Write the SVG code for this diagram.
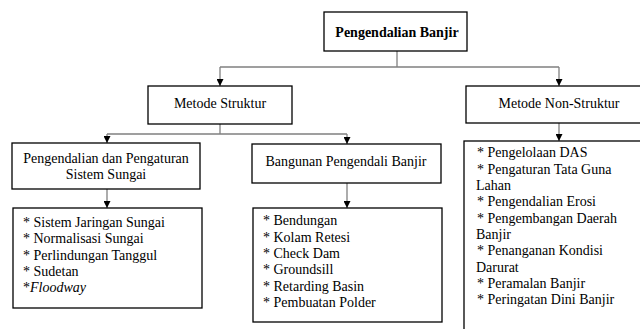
<svg xmlns="http://www.w3.org/2000/svg" width="640" height="329" viewBox="0 0 640 329">
<defs>
<marker id="arr" viewBox="0 0 8 8" refX="8" refY="4" markerWidth="7" markerHeight="7" markerUnits="userSpaceOnUse" orient="auto">
<path d="M0,0 L8,4 L0,8 Z" fill="#000"/>
</marker>
<style>
.box{fill:#fff;stroke:#000;stroke-width:1.3}
.c{fill:none;stroke:#808080;stroke-width:1.3}
text{font-family:"Liberation Serif","Times New Roman",serif;font-size:14px;fill:#000}
.m{text-anchor:middle}
.b{font-weight:bold}
</style>
</defs>
<rect width="640" height="329" fill="#fff"/>
<g id="connectors">
<path class="c" d="M397,51 V67 M220,67 H559"/>
<path class="c" d="M220,67 V86" marker-end="url(#arr)"/>
<path class="c" d="M559,67 V86" marker-end="url(#arr)"/>
<path class="c" d="M559,123 V141" marker-end="url(#arr)"/>
<path class="c" d="M220,124 V134 M107,134 H347"/>
<path class="c" d="M107,134 V143" marker-end="url(#arr)"/>
<path class="c" d="M347,134 V144" marker-end="url(#arr)"/>
<path class="c" d="M107,189 V208" marker-end="url(#arr)"/>
<path class="c" d="M347,183 V208" marker-end="url(#arr)"/>
</g>
<g id="root">
<rect class="box" x="324" y="12" width="143" height="39"/>
<text class="m b" x="397" y="37">Pengendalian Banjir</text>
</g>
<g id="struktur">
<rect class="box" x="148" y="86" width="144" height="38"/>
<text class="m" x="220" y="108">Metode Struktur</text>
</g>
<g id="nonstruktur">
<rect class="box" x="466" y="86" width="180" height="37"/>
<text class="m" x="559" y="108">Metode Non-Struktur</text>
</g>
<g id="sistem-sungai">
<rect class="box" x="12" y="143" width="188" height="46"/>
<text class="m" x="106" y="163">Pengendalian dan Pengaturan</text>
<text class="m" x="106" y="179">Sistem Sungai</text>
</g>
<g id="bangunan">
<rect class="box" x="252" y="144" width="189" height="39"/>
<text class="m" x="346" y="166">Bangunan Pengendali Banjir</text>
</g>
<g id="list-sungai">
<rect class="box" x="13" y="208" width="189" height="100"/>
<text x="23" y="227">* Sistem Jaringan Sungai</text>
<text x="23" y="243">* Normalisasi Sungai</text>
<text x="23" y="259.5">* Perlindungan Tanggul</text>
<text x="23" y="275.5">* Sudetan</text>
<text x="23" y="292">*<tspan font-style="italic">Floodway</tspan></text>
</g>
<g id="list-bangunan">
<rect class="box" x="253" y="208" width="189" height="114"/>
<text x="263" y="225">* Bendungan</text>
<text x="263" y="241.5">* Kolam Retesi</text>
<text x="263" y="258">* Check Dam</text>
<text x="263" y="274">* Groundsill</text>
<text x="263" y="290.5">* Retarding Basin</text>
<text x="263" y="307">* Pembuatan Polder</text>
</g>
<g id="list-nonstruktur">
<rect class="box" x="464" y="141" width="182" height="195"/>
<text x="477" y="157">* Pengelolaan DAS</text>
<text x="477" y="173.5">* Pengaturan Tata Guna</text>
<text x="476" y="190">Lahan</text>
<text x="477" y="206">* Pengendalian Erosi</text>
<text x="477" y="222.5">* Pengembangan Daerah</text>
<text x="476" y="239">Banjir</text>
<text x="477" y="255">* Penanganan Kondisi</text>
<text x="476" y="271.5">Darurat</text>
<text x="477" y="288">* Peramalan Banjir</text>
<text x="477" y="304">* Peringatan Dini Banjir</text>
</g>
</svg>
